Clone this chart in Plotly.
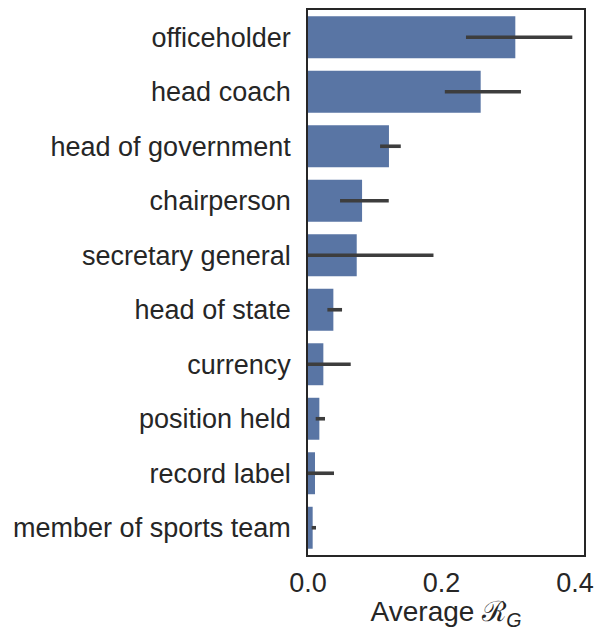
import plotly.graph_objects as go

categories = ["officeholder", "head coach", "head of government", "chairperson",
              "secretary general", "head of state", "currency", "position held",
              "record label", "member of sports team"]
means = [0.3106, 0.2587, 0.1213, 0.0810, 0.0730, 0.0380, 0.0230, 0.0170, 0.0105, 0.0070]
ci_low = [0.2367, 0.2050, 0.1080, 0.0480, 0.0000, 0.0290, 0.0000, 0.0115, 0.0000, 0.0055]
ci_high = [0.3960, 0.3190, 0.1390, 0.1210, 0.1880, 0.0510, 0.0640, 0.0255, 0.0390, 0.0120]
tick_vals = [0.0, 0.2, 0.4]
tick_text = ["0.0", "0.2", "0.4"]

err_plus = [h - m for h, m in zip(ci_high, means)]
err_minus = [m - l for m, l in zip(means, ci_low)]

fig = go.Figure()
fig.add_trace(go.Bar(
    x=means, y=categories, orientation="h",
    marker=dict(color="#5975a4", line=dict(width=0)),
    width=0.77,
    error_x=dict(type="data", array=err_plus, arrayminus=err_minus,
                 symmetric=False, color="#3d3d3d", thickness=3.6, width=0),
))

fig.update_layout(
    width=596, height=623,
    margin=dict(l=300, r=20, t=0, b=76),
    paper_bgcolor="white", plot_bgcolor="white",
    font=dict(family="Liberation Sans, Arial, sans-serif", size=27, color="#262626"),
    showlegend=False,
)
fig.update_xaxes(
    range=[0, 0.4135], tickvals=tick_vals, ticktext=tick_text,
    showgrid=False, zeroline=False, ticks="", showline=True, mirror=True,
    linecolor="#262626", linewidth=1.8,
    tickfont=dict(size=27), ticklabelstandoff=3,
    title=dict(text="Average ℛ<sub><i>G</i></sub>", font=dict(size=28), standoff=4),
)
fig.update_yaxes(
    autorange=False, range=[9.5, -0.5], categoryorder="array", categoryarray=categories,
    showgrid=False, zeroline=False, ticks="", showline=True, mirror=True,
    linecolor="#262626", linewidth=1.8,
    tickfont=dict(size=27), ticklabelstandoff=10,
)

fig.write_html("out.html")
